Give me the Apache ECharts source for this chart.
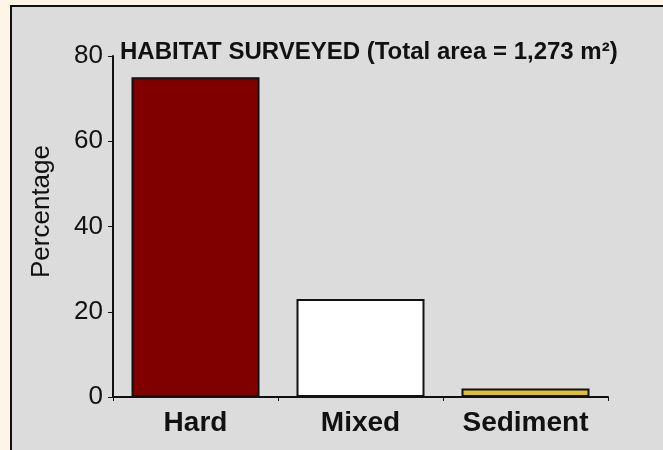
<!DOCTYPE html>
<html>
<head>
<meta charset="utf-8">
<script src="https://cdn.jsdelivr.net/npm/echarts@6/dist/echarts.min.js"></script>
<style>
html,body{margin:0;padding:0;background:#fdf6e6;}
#c{width:663px;height:450px;}
</style>
</head>
<body>
<div id="c"></div>
<script>
const categories = ['Hard', 'Mixed', 'Sediment'];
const percentages = [75, 23, 2];
const barColors = ['#800000', '#ffffff', '#dcbf34'];
const yTicks = [0, 20, 40, 60, 80];
const titleText = 'HABITAT SURVEYED (Total area = 1,273 m\u00B2)';
const yName = 'Percentage';

const FONT = '"Liberation Sans", Arial, sans-serif';
const chart = echarts.init(document.getElementById('c'));
chart.setOption({
  backgroundColor: '#fdf6e6',
  animation: false,
  graphic: [{
    type: 'rect',
    z: -10,
    shape: { x: 11, y: 6, width: 700, height: 500 },
    style: { fill: '#dcdcdc', stroke: '#111', lineWidth: 2 }
  }],
  title: {
    text: titleText,
    left: 115,
    top: 35,
    textStyle: { fontFamily: FONT, fontSize: 24, fontWeight: 'bold', color: '#111' }
  },
  grid: { left: 113, right: 55, top: 56, bottom: 53, containLabel: false },
  xAxis: {
    type: 'category',
    data: categories,
    axisLine: { lineStyle: { color: '#111', width: 2 } },
    axisTick: { show: true, length: 4, lineStyle: { color: '#111', width: 1 } },
    axisLabel: { margin: 12, fontFamily: FONT, fontSize: 28, fontWeight: 'bold', color: '#111' }
  },
  yAxis: {
    type: 'value',
    min: yTicks[0],
    max: yTicks[yTicks.length - 1],
    interval: 20,
    name: yName,
    nameLocation: 'middle',
    nameGap: 58,
    nameTextStyle: { fontFamily: FONT, fontSize: 26, color: '#111', padding: [0, 0, 0, 30] },
    splitLine: { show: false },
    axisLine: { show: true, lineStyle: { color: '#111', width: 2 } },
    axisTick: { show: true, length: 5, lineStyle: { color: '#111', width: 1 } },
    axisLabel: { margin: 10, fontFamily: FONT, fontSize: 26, color: '#111' }
  },
  series: [{
    type: 'bar',
    barWidth: 128,
    data: percentages.map((v, i) => ({
      value: v,
      itemStyle: { color: barColors[i], borderColor: '#111', borderWidth: 2 }
    }))
  }]
});
</script>
</body>
</html>
